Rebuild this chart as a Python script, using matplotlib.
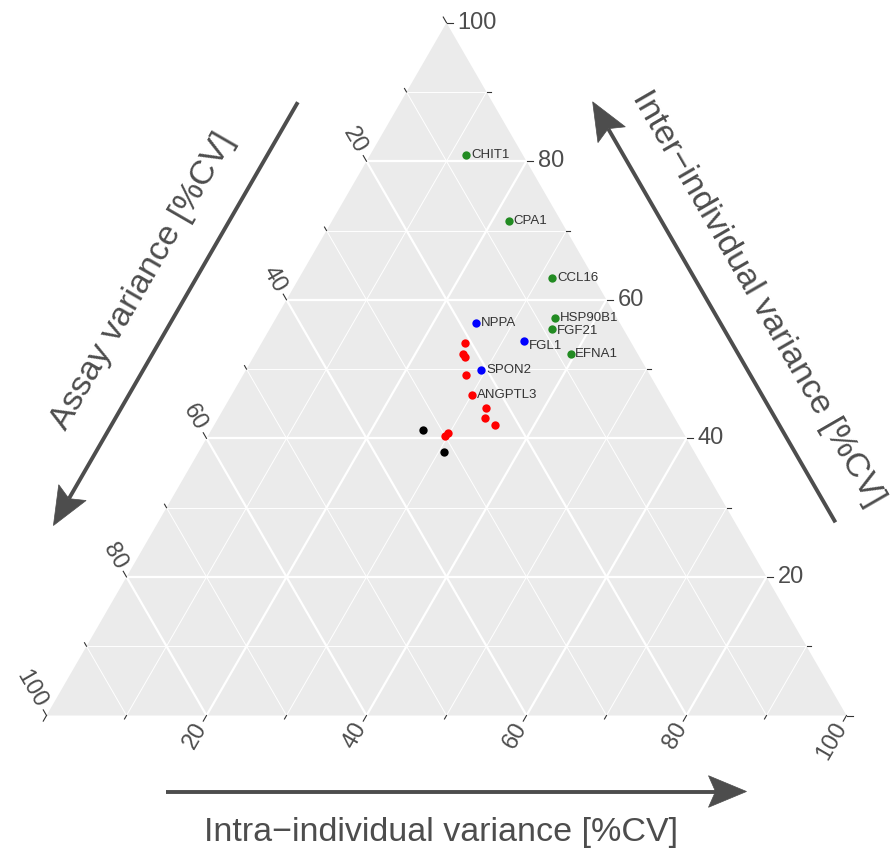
import numpy as np
import matplotlib
matplotlib.use('Agg')
import matplotlib.pyplot as plt
from matplotlib.patches import Polygon

plt.rcParams['font.family'] = ['Liberation Sans', 'DejaVu Sans']

# Variance components per protein, in % of total CV (assay, intra, inter)
green_names = ['CHIT1', 'CPA1', 'CCL16', 'HSP90B1', 'FGF21', 'EFNA1']
green_assay = [7.1, 6.5, 5.2, 7.7, 8.9, 8.4]
green_intra = [12.0, 22.1, 31.6, 34.9, 35.3, 39.4]
green_inter = [80.9, 71.4, 63.2, 57.4, 55.8, 52.2]

blue_names = ['NPPA', 'FGL1', 'SPON2']
blue_assay = [18.0, 13.3, 20.7]
blue_intra = [25.4, 32.7, 29.4]
blue_inter = [56.6, 54.0, 49.9]

red_names = ['', '', '', '', 'ANGPTL3', '', '', '', '', '']
red_assay = [20.8, 21.8, 21.8, 23.0, 23.7, 22.9, 23.7, 23.0, 30.1, 29.4]
red_intra = [25.5, 26.0, 26.5, 27.8, 30.0, 32.7, 33.3, 35.1, 29.6, 29.8]
red_inter = [53.7, 52.2, 51.7, 49.2, 46.3, 44.4, 43.0, 41.9, 40.3, 40.8]

black_names = ['', '']
black_assay = [32.3, 31.3]
black_intra = [26.5, 30.7]
black_inter = [41.2, 38.0]

tick_values = list(range(0, 101, 10))
tick_labels = {20: '20', 40: '40', 60: '60', 80: '80', 100: '100'}

PX = 1 / 800.0  # one pixel in triangle units
H = np.sqrt(3) / 2
GREY = '#4D4D4D'


def tern_xy(assay, intra, inter):
    # barycentric -> cartesian (assay bottom-left, intra bottom-right, inter top)
    a = np.asarray(assay, float)
    b = np.asarray(intra, float)
    c = np.asarray(inter, float)
    s = a + b + c
    b, c = b / s, c / s
    return b + c / 2, c * H


def unit(deg):
    return np.array([np.cos(np.radians(deg)), np.sin(np.radians(deg))])


fig = plt.figure(figsize=(8.91, 8.55), dpi=100)
ax = fig.add_axes([0, 0, 1, 1])
ax.set_xlim(-46.5 * PX, (891 - 46.5) * PX)
ax.set_ylim((715.5 - 855) * PX, 715.5 * PX)
ax.axis('off')

# Grey panel
bl = np.array(tern_xy(100, 0, 0))
br = np.array(tern_xy(0, 100, 0))
top = np.array(tern_xy(0, 0, 100))
ax.add_patch(Polygon([bl, br, top], closed=True, facecolor='#EBEBEB',
                     edgecolor='none', zorder=0))

# Grid lines
for v in range(10, 100, 10):
    lw = 1.6 if v % 20 == 0 else 0.7
    segs = [
        (tern_xy(100 - v, 0, v), tern_xy(0, 100 - v, v)),   # inter const
        (tern_xy(v, 0, 100 - v), tern_xy(v, 100 - v, 0)),   # assay const
        (tern_xy(100 - v, v, 0), tern_xy(0, v, 100 - v)),   # intra const
    ]
    for p, q in segs:
        ax.plot([p[0], q[0]], [p[1], q[1]], color='white', lw=lw, zorder=1,
                solid_capstyle='butt')

# Ticks and tick labels
for v in tick_values:
    length = (6.5 if v % 20 == 0 else 4) * PX
    # inter (right edge), horizontal ticks
    p = np.array(tern_xy(0, 100 - v, v))
    d = unit(0)
    ax.plot([p[0], p[0] + d[0] * length], [p[1], p[1] + d[1] * length],
            color='#333333', lw=0.8, zorder=2)
    if v in tick_labels:
        q = p + d * 11 * PX
        ax.text(q[0], q[1], tick_labels[v], ha='left', va='center',
                fontsize=17, color=GREY)
    # assay (left edge)
    p = np.array(tern_xy(v, 0, 100 - v))
    d = unit(120)
    ax.plot([p[0], p[0] + d[0] * length], [p[1], p[1] + d[1] * length],
            color='#333333', lw=0.8, zorder=2)
    if v in tick_labels:
        q = p + d * 11 * PX
        ax.text(q[0], q[1], tick_labels[v], ha='right', va='center',
                rotation=-60, rotation_mode='anchor', fontsize=17, color=GREY)
    # intra (bottom edge)
    p = np.array(tern_xy(100 - v, v, 0))
    d = unit(240)
    ax.plot([p[0], p[0] + d[0] * length], [p[1], p[1] + d[1] * length],
            color='#333333', lw=0.8, zorder=2)
    if v in tick_labels:
        q = p + d * 10 * PX
        ax.text(q[0], q[1], tick_labels[v], ha='right', va='center',
                rotation=60, rotation_mode='anchor', fontsize=17, color=GREY)


def draw_arrow(start, end):
    start = np.asarray(start)
    end = np.asarray(end)
    d = (end - start) / np.linalg.norm(end - start)
    n = np.array([-d[1], d[0]])
    head_len, half_w, notch = 38 * PX, 15.8 * PX, 7 * PX
    base = end - d * head_len
    ax.plot([start[0], (base + d * notch)[0]], [start[1], (base + d * notch)[1]],
            color=GREY, lw=2.8, solid_capstyle='butt', zorder=3)
    head = [end, base + n * half_w, base + d * notch, base - n * half_w]
    ax.add_patch(Polygon(head, closed=True, facecolor=GREY, edgecolor=GREY,
                         lw=0.5, zorder=3))


def edge_point(p0, p1, frac, offset, normal):
    return p0 + (p1 - p0) * frac + normal * offset * PX


n_left = unit(150)
n_right = unit(30)
n_bottom = unit(270)

# Axis arrows
draw_arrow(edge_point(bl, top, 0.821, 89, n_left), edge_point(bl, top, 0.21, 89, n_left))
draw_arrow(edge_point(br, top, 0.216, 87, n_right), edge_point(br, top, 0.823, 87, n_right))
draw_arrow(edge_point(bl, br, 0.149, 76, n_bottom), edge_point(bl, br, 0.875, 76, n_bottom))

# Axis titles
p = edge_point(bl, top, 0.53, 134, n_left)
ax.text(p[0], p[1], 'Assay variance [%CV]', rotation=60, ha='center',
        va='center', rotation_mode='anchor', fontsize=24.5, color=GREY)
p = edge_point(br, top, 0.506, 132, n_right)
ax.text(p[0], p[1], 'Inter\u2212individual variance [%CV]', rotation=-60,
        ha='center', va='center', rotation_mode='anchor', fontsize=24.5, color=GREY)
p = edge_point(bl, br, 0.493, 116.5, n_bottom)
ax.text(p[0], p[1], 'Intra\u2212individual variance [%CV]', ha='center',
        va='center', fontsize=24.5, color=GREY)

# Points and labels
groups = [
    (black_names, black_assay, black_intra, black_inter, 'black'),
    (green_names, green_assay, green_intra, green_inter, '#228B22'),
    (blue_names, blue_assay, blue_intra, blue_inter, '#0000FF'),
    (red_names, red_assay, red_intra, red_inter, '#FF0000'),
]
nudge = {'FGL1': (3.5, -3.5), 'FGF21': (3.5, -1.5)}
for names, a, b, c, col in groups:
    x, y = tern_xy(a, b, c)
    ax.plot(x, y, 'o', color=col, ms=6, mec='none', zorder=4)
    for name, xi, yi in zip(names, x, y):
        if name:
            ax.annotate(name, (xi, yi), xytext=nudge.get(name, (3.5, 0)),
                        textcoords='offset points', ha='left', va='center',
                        fontsize=9.5, color='#333333', zorder=5)

fig.savefig('out.png', dpi=100)
